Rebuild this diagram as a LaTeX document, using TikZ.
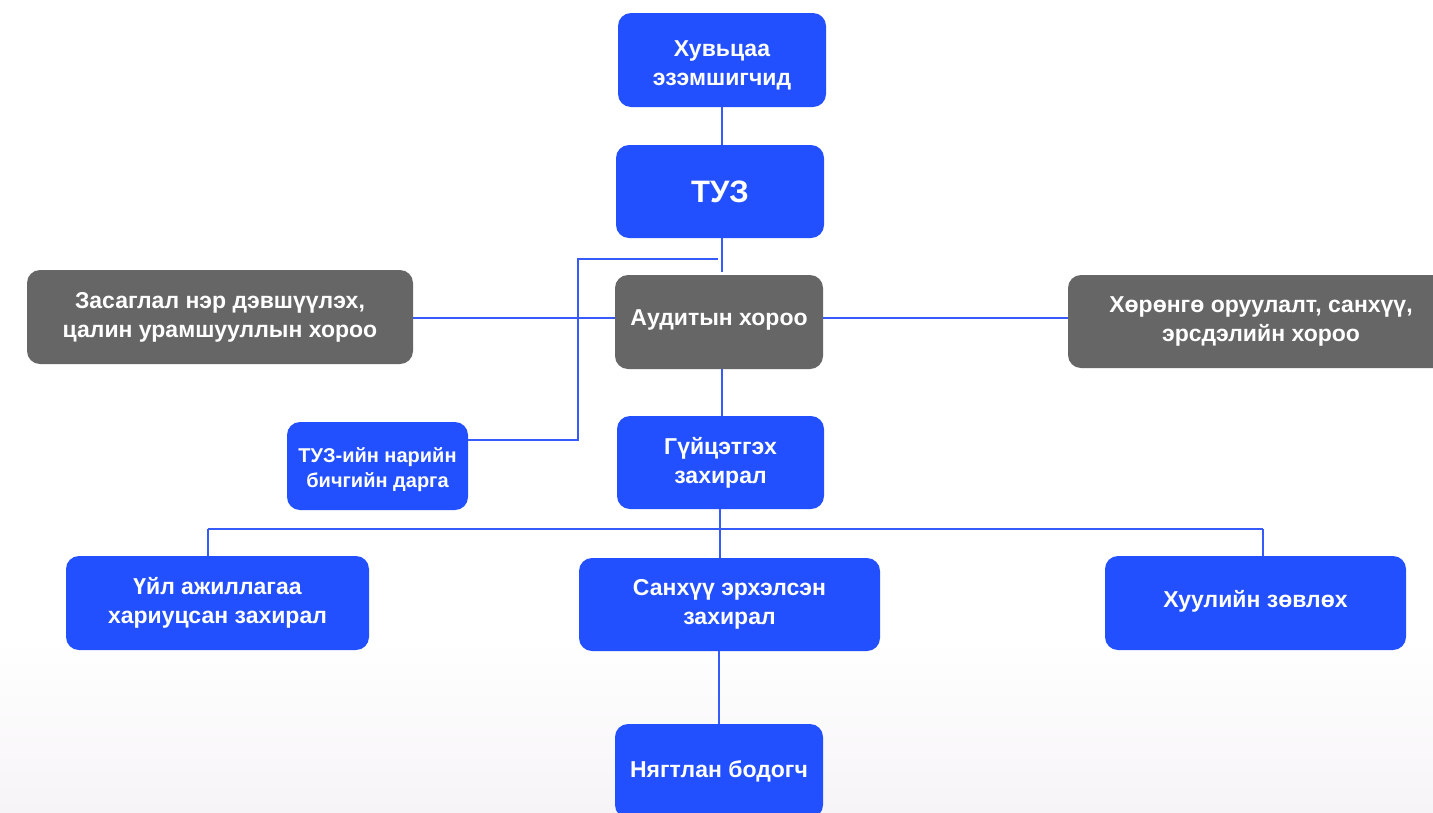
\documentclass[tikz,border=0pt]{standalone}
\usepackage{fontspec}
\setmainfont{Liberation Sans}
\begin{document}
\begin{tikzpicture}[x=1pt,y=-1pt,
  every node/.style={font=\bfseries\fontsize{23}{29}\selectfont, text=white, align=center, rounded corners=13pt, inner sep=0pt},
  bluebox/.style={fill=boxblue},
  graybox/.style={fill=boxgray},
  link/.style={draw=lineblue, line width=1.6pt}
]
\definecolor{boxblue}{RGB}{35,80,255}
\definecolor{boxgray}{RGB}{102,102,102}
\definecolor{lineblue}{RGB}{55,90,250}
\useasboundingbox (0,0) rectangle (1433,812);
\fill[white] (0,0) rectangle (1433,812);
\shade[top color=white, bottom color={rgb,255:red,247;green,244;blue,247}] (0,640) rectangle (1433,812);

\node[bluebox, minimum width=208pt, minimum height=94pt] (sh) at (722,60) {\rule{0pt}{26pt}Хувьцаа\\эзэмшигчид};
\node[bluebox, minimum width=208pt, minimum height=93pt, font=\bfseries\fontsize{31}{36}\selectfont] (tuz) at (720,191.5) {ТУЗ};
\node[graybox, minimum width=208pt, minimum height=94pt] (aud) at (719,322) {Аудитын хороо\rule[-9pt]{0pt}{1pt}};
\node[graybox, minimum width=386pt, minimum height=94pt] (zas) at (220,317) {Засаглал нэр дэвшүүлэх,\\цалин урамшууллын хороо};
\node[graybox, minimum width=386pt, minimum height=93pt] (hor) at (1261,321.5) {Хөрөнгө оруулалт, санхүү,\\эрсдэлийн хороо};
\node[bluebox, minimum width=181pt, minimum height=88pt, font=\bfseries\fontsize{20}{25}\selectfont] (nar) at (377.5,466) {\rule{0pt}{22pt}ТУЗ-ийн нарийн\\бичгийн дарга};
\node[bluebox, minimum width=207pt, minimum height=93pt] (gui) at (720.5,462.5) {Гүйцэтгэх\\захирал};
\node[bluebox, minimum width=303pt, minimum height=94pt] (uil) at (217.5,603) {Үйл ажиллагаа\\хариуцсан захирал};
\node[bluebox, minimum width=301pt, minimum height=93pt] (san) at (729.5,604.5) {Санхүү эрхэлсэн\\захирал\rule[-6pt]{0pt}{1pt}};
\node[bluebox, minimum width=301pt, minimum height=94pt] (huu) at (1255.5,603) {Хуулийн зөвлөх\rule[-8pt]{0pt}{1pt}};
\node[bluebox, minimum width=208pt, minimum height=94pt] (nya) at (719,771) {Нягтлан бодогч};

\draw[link] (sh.south -| 722,0) -- (tuz.north -| 722,0);
\draw[link] (tuz.south -| 722,0) -- (722,272);
\draw[link] (718,259) -- (578,259) -- (578,440) -- (nar.east |- 0,440);
\draw[link] (zas.east |- 0,318) -- (aud.west |- 0,318);
\draw[link] (aud.east |- 0,318) -- (hor.west |- 0,318);
\draw[link] (aud.south -| 722,0) -- (gui.north -| 722,0);
\draw[link] (gui.south -| 720,0) -- (san.north -| 720,0);
\draw[link] (208,529) -- (1263,529);
\draw[link] (208,529) -- (uil.north -| 208,0);
\draw[link] (1263,529) -- (huu.north -| 1263,0);
\draw[link] (san.south -| 719,0) -- (nya.north -| 719,0);
\end{tikzpicture}
\end{document}
